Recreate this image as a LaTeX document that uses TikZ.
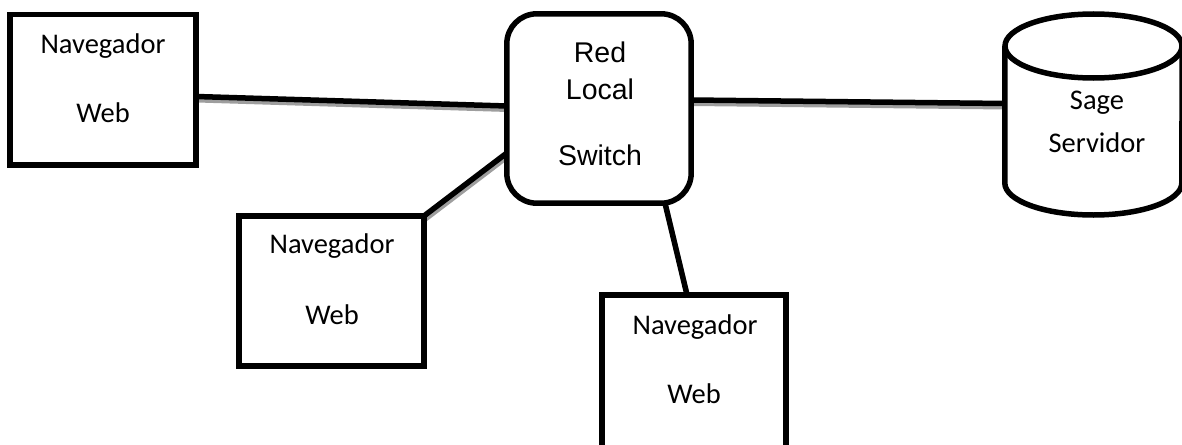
\documentclass[tikz,border=0pt]{standalone}
\usepackage{fontspec}
\setmainfont{Carlito}
\newfontfamily\arialfont{Liberation Sans}
\begin{document}
\begin{tikzpicture}[x=1pt,y=-1pt,
  boxnode/.style={draw=black,line width=5.5pt,fill=white,inner sep=0pt,rectangle},
  wire/.style={line width=5.5pt,draw=black,
    preaction={draw=black!38,line width=5pt,transform canvas={xshift=1pt,yshift=-3.5pt}}},
  lbl/.style={inner sep=0pt,font=\fontsize{28.5}{30}\selectfont},
  albl/.style={inner sep=0pt,font=\arialfont\fontsize{28.5}{30}\selectfont}]
\useasboundingbox (0,0) rectangle (1182,444);
\clip (0,0) rectangle (1182,444);
% invisible anchors for the nodes (positions)
\node[inner sep=0pt,minimum width=186pt,minimum height=150.5pt] (b1) at (103,89.75) {};
\node[inner sep=0pt,minimum width=185pt,minimum height=150pt] (b2) at (331.5,291) {};
\node[inner sep=0pt,minimum width=184pt,minimum height=170pt] (b3) at (694,380) {};
\node[inner sep=0pt,minimum width=184pt,minimum height=189pt] (sw) at (599,108.5) {};
\node[inner sep=0pt,minimum width=177pt,minimum height=200.5pt] (srv) at (1093.5,114.75) {};
% connectors
\draw[wire] ([yshift=-6.75pt]b1.east) -- ([yshift=2.5pt]sw.west);
\draw[wire] ([yshift=8.5pt]sw.east) -- ([yshift=11.25pt]srv.west);
\draw[wire] (b2.north east) -- ([yshift=-44.5pt]sw.west);
\draw[wire] ([xshift=66pt]sw.south) -- ([xshift=-7pt]b3.north);
% shapes
\draw[boxnode] (b1.south west) rectangle (b1.north east);
\draw[boxnode] (b2.south west) rectangle (b2.north east);
\draw[boxnode] (b3.south west) rectangle (b3.north east);
\draw[boxnode,rounded corners=30pt] (sw.south west) rectangle (sw.north east);
% cylinder
\draw[line width=5.5pt,fill=white] (srv.west |- 0,46) -- (srv.west |- 0,183)
  arc[start angle=180,end angle=360,x radius=88.5pt,y radius=32pt]
  -- (srv.east |- 0,46);
\draw[line width=5.5pt,fill=white] (1093.5,46) ellipse[x radius=88.5pt,y radius=32pt];
% texts
\node[lbl] (t1a) at (103,46) {Navegador};
\node[lbl] (t1b) at (103,113) {Web};
\node[lbl] (t2a) at (332,246) {Navegador};
\node[lbl] (t2b) at (332,315) {Web};
\node[lbl] (t3a) at (695,327) {Navegador};
\node[lbl] (t3b) at (694,394) {Web};
\node[albl] (s1) at (600,52) {Red};
\node[albl] (s2) at (600,89) {Local};
\node[albl] (s3) at (600,155) {Switch};
\node[lbl] (v1) at (1097,103) {Sage};
\node[lbl] (v2) at (1097,143) {Servidor};
\end{tikzpicture}
\end{document}
